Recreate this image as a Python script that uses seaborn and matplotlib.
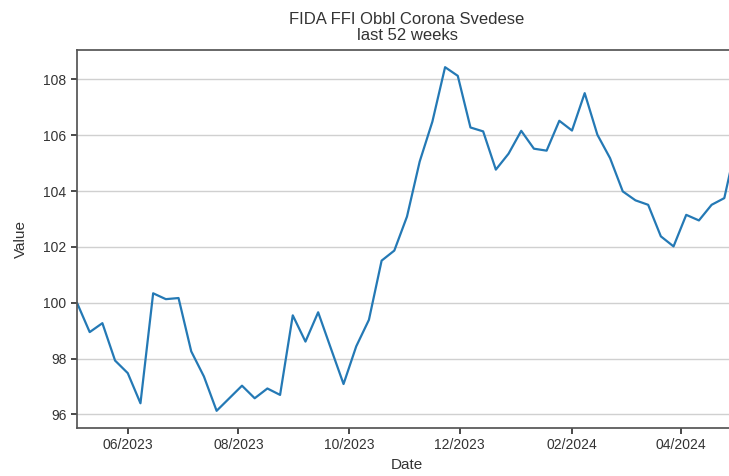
import pandas as pd
import numpy as np
import seaborn as sns
import matplotlib.pyplot as plt
import matplotlib.dates as mdates

# Weekly values
start_date = "2023-05-04"
values = [100.00, 98.95, 99.27, 97.93, 97.48, 96.40, 100.34, 100.13, 100.17, 98.26,
          97.36, 96.13, 96.58, 97.03, 96.58, 96.93, 96.70, 99.55, 98.61, 99.66,
          98.37, 97.09, 98.44, 99.39, 101.51, 101.87, 103.09, 105.06, 106.49, 108.44,
          108.13, 106.28, 106.14, 104.77, 105.34, 106.16, 105.52, 105.45, 106.52, 106.17,
          107.51, 106.02, 105.18, 103.99, 103.67, 103.51, 102.38, 102.02, 103.15, 102.95,
          103.51, 103.75, 105.80]
title_lines = ["FIDA FFI Obbl Corona Svedese", "last 52 weeks"]

dates = pd.date_range(start=start_date, periods=len(values), freq="7D")
df = pd.DataFrame({"Date": dates, "Value": values})

sns.set_theme(style="ticks", rc={"axes.grid": True, "grid.color": "#d0d0d0",
                                 "axes.edgecolor": "#555555"})
plt.rcParams['font.family'] = ['Liberation Sans', 'DejaVu Sans']

fig = plt.figure(figsize=(7.29, 4.76), dpi=100)
ax = fig.add_axes([77 / 729, 1 - 428 / 476, (737 - 77) / 729, (428 - 50) / 476])

sns.lineplot(data=df, x="Date", y="Value", ax=ax, color="#2479b5", linewidth=1.6)

ax.xaxis.grid(False)
ax.set_xlim(dates[0], dates[-1])
ax.xaxis.set_major_locator(mdates.MonthLocator(bymonth=[2, 4, 6, 8, 10, 12]))
ax.xaxis.set_major_formatter(mdates.DateFormatter("%m/%Y"))
ax.tick_params(labelsize=10, colors="#333333", length=4)
ax.set_xlabel("Date", fontsize=11, color="#333333")
ax.set_ylabel("Value", fontsize=11, color="#333333", labelpad=11)
ax.set_title("\n".join(title_lines), fontsize=12, color="#333333",
             linespacing=1.1, pad=7)

fig.savefig("out.png", dpi=100)
